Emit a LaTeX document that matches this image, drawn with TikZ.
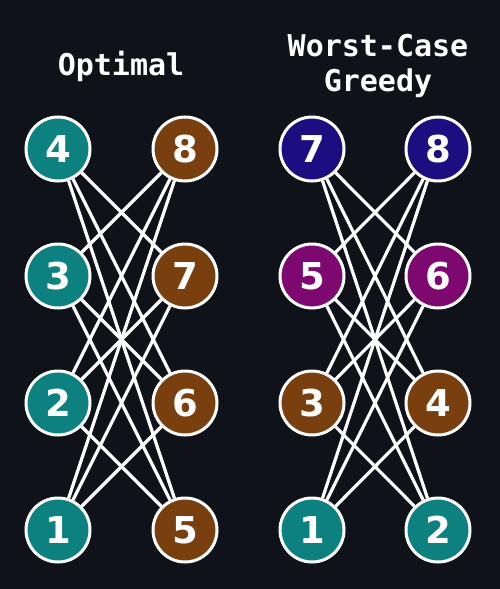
\documentclass[tikz,border=0pt]{standalone}
\usepackage{fontspec}
\setmainfont{DejaVu Sans}
\newfontfamily\titlefont{DejaVu Sans Mono}
\usepackage{xcolor}
\usepackage{tikz}
\usetikzlibrary{positioning}
\definecolor{bgdark}{RGB}{16, 18, 26}
\definecolor{tealnode}{RGB}{13, 128, 128}
\definecolor{brownnode}{RGB}{122, 63, 14}
\definecolor{navynode}{RGB}{28, 14, 128}
\definecolor{purplenode}{RGB}{125, 8, 112}
\tikzset{
	vnode/.style={circle, draw=white, line width=3pt, minimum size=64pt, inner sep=0pt,
		text=white, font=\fontsize{37}{37}\selectfont\bfseries},
	edge/.style={draw=white, line width=3.2pt},
	heading/.style={text=white, align=center, font=\titlefont\fontsize{30}{35}\selectfont\bfseries}
}

\begin{document}
\begin{tikzpicture}[x=1pt, y=-1pt]
	\fill[bgdark] (0,0) rectangle (500,589);
	\useasboundingbox (0,0) rectangle (500,589);
	% titles
	\node[heading] (titleopt) at (121,66) {Optimal};
	\node[heading] (titlegreedy) at (378,66) {Worst-Case\\Greedy};
	% optimal matching
	\foreach \a/\b/\y/\r in {4/8/149/1, 3/7/276/2, 2/6/403/3, 1/5/530/4} {
		\node[vnode, fill=tealnode] (oa\r) at (58,\y) {\a};
		\node[vnode, fill=brownnode] (ob\r) at (185,\y) {\b};
	}
	% worst-case greedy
	\foreach \a/\b/\y/\c/\r in {7/8/149/navynode/1, 5/6/276/purplenode/2, 3/4/403/brownnode/3, 1/2/530/tealnode/4} {
		\node[vnode, fill=\c] (ga\r) at (312,\y) {\a};
		\node[vnode, fill=\c] (gb\r) at (438,\y) {\b};
	}
	% edges
	\foreach \i in {1,...,4} {
		\foreach \j in {1,...,4} {
			\ifnum\i=\j\else
				\draw[edge] (oa\i) -- (ob\j);
				\draw[edge] (ga\i) -- (gb\j);
			\fi
		}
	}
\end{tikzpicture}
\end{document}
